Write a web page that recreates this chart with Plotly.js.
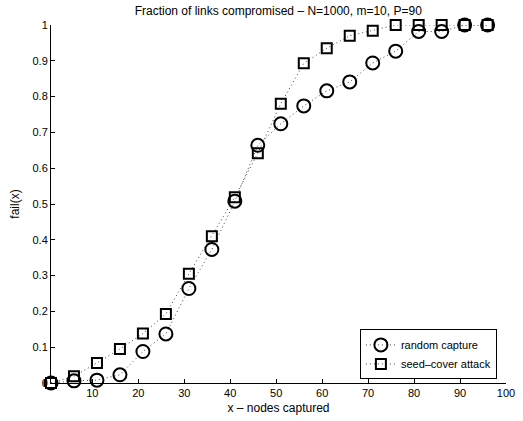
<!DOCTYPE html>
<html>
<head>
<meta charset="utf-8">
<script src="https://cdn.plot.ly/plotly-3.0.1.min.js"></script>
<style>html,body{margin:0;padding:0;background:#fff;}#chart{width:523px;height:421px;}</style>
</head>
<body>
<div id="chart"></div>
<script>
const nodesCaptured = [1, 6, 11, 16, 21, 26, 31, 36, 41, 46, 51, 56, 61, 66, 71, 76, 81, 86, 91, 96];
const randomCapture = [0, 0.006, 0.008, 0.023, 0.088, 0.137, 0.264, 0.373, 0.508, 0.664, 0.724, 0.774, 0.816, 0.841, 0.894, 0.927, 0.982, 0.982, 1.0, 1.0];
const seedCoverAttack = [0, 0.019, 0.056, 0.095, 0.138, 0.193, 0.305, 0.41, 0.519, 0.642, 0.78, 0.893, 0.935, 0.970, 0.984, 1.0, 1.0, 1.0, 1.0, 1.0];
const xTicks = [10, 20, 30, 40, 50, 60, 70, 80, 90, 100];
const yTicks = [0, 0.1, 0.2, 0.3, 0.4, 0.5, 0.6, 0.7, 0.8, 0.9, 1];
const yTickText = ['0', '0.1', '0.2', '0.3', '0.4', '0.5', '0.6', '0.7', '0.8', '0.9', '1'];
const seriesNames = ['random capture', 'seed\u2013cover attack'];

const font = {family: 'Liberation Sans, Arial, sans-serif', size: 11, color: '#000'};

const traces = [
  {
    x: nodesCaptured, y: randomCapture, name: seriesNames[0],
    type: 'scatter', mode: 'lines+markers', cliponaxis: false,
    line: {color: '#444', width: 1, dash: '1px,3px'},
    marker: {symbol: 'circle-open', size: 13, color: '#000', line: {color: '#000', width: 2}}
  },
  {
    x: nodesCaptured, y: seedCoverAttack, name: seriesNames[1],
    type: 'scatter', mode: 'lines+markers', cliponaxis: false,
    line: {color: '#444', width: 1, dash: '1px,3px'},
    marker: {symbol: 'square-open', size: 10, color: '#000', line: {color: '#000', width: 2}}
  }
];

const layout = {
  width: 523, height: 421,
  paper_bgcolor: '#fff', plot_bgcolor: '#fff',
  font: font,
  margin: {l: 51, r: 17, t: 25, b: 38, pad: 0},
  title: {text: 'Fraction of links compromised \u2013 N=1000, m=10, P=90', font: {family: font.family, size: 12, color: '#000'}, x: 0.532, xanchor: 'center', y: 0.974, yanchor: 'middle'},
  xaxis: {
    range: [1, 100], tickvals: xTicks, ticktext: xTicks.map(String),
    ticks: 'inside', ticklen: 4, tickcolor: '#000', tickwidth: 1,
    showline: true, linecolor: '#000', linewidth: 1, mirror: false,
    showgrid: false, zeroline: false,
    tickfont: font,
    title: {text: 'x \u2013 nodes captured', font: {family: font.family, size: 12, color: '#000'}, standoff: 5}
  },
  yaxis: {
    range: [0, 1], tickvals: yTicks, ticktext: yTickText,
    ticks: 'inside', ticklen: 4, tickcolor: '#000', tickwidth: 1,
    showline: true, linecolor: '#000', linewidth: 1, mirror: false,
    showgrid: false, zeroline: false,
    tickfont: font,
    title: {text: 'fail(x)', font: {family: font.family, size: 12, color: '#000'}, standoff: 10}
  },
  showlegend: true,
  legend: {
    x: 0.98, xanchor: 'right', y: 0.01, yanchor: 'bottom',
    bgcolor: '#fff', bordercolor: '#000', borderwidth: 1,
    font: font, tracegroupgap: 0, itemwidth: 30
  }
};

Plotly.newPlot('chart', traces, layout, {displayModeBar: false, staticPlot: true});
</script>
</body>
</html>
